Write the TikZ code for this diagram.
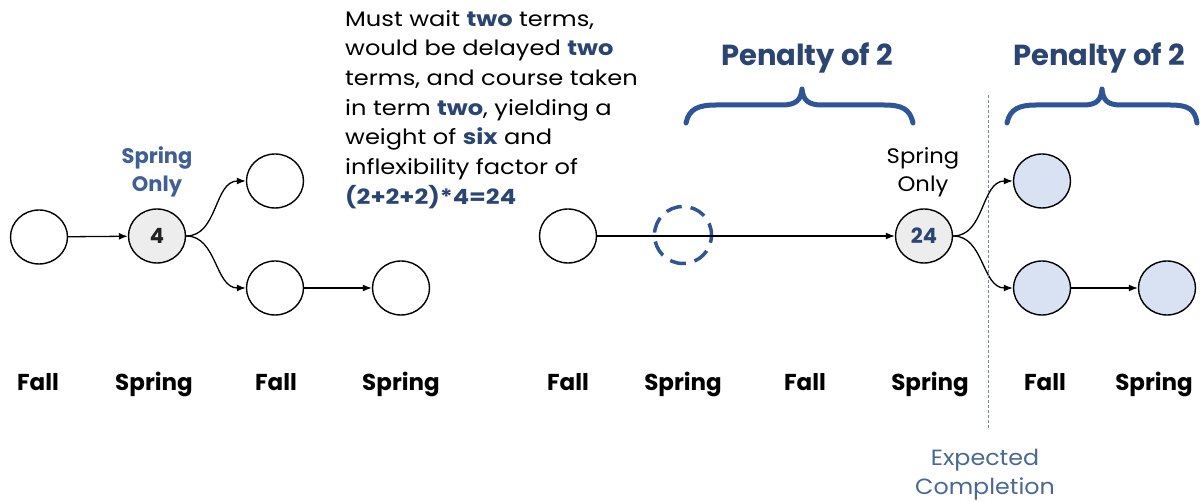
\documentclass[tikz,border=0pt]{standalone}
\usepackage{fontspec}
\setmainfont{Poppins}
\newfontfamily\widefont[FakeStretch=1.15]{Poppins}
\newfontfamily\midfont[FakeStretch=1.08]{Poppins}
\usetikzlibrary{shapes.geometric,arrows.meta}
\definecolor{navy}{HTML}{2B4573}
\definecolor{midblue}{HTML}{3F5F95}
\definecolor{bracecol}{HTML}{2F5597}
\definecolor{expcol}{HTML}{4A6894}
\definecolor{grayfill}{HTML}{EDEDED}
\definecolor{bluefill}{HTML}{D9E2F3}
\definecolor{vline}{HTML}{6F86A6}
\definecolor{darktext}{HTML}{222222}
\tikzset{
  course/.style={ellipse, draw=black, line width=1.4pt, minimum width=57pt, minimum height=54pt, inner sep=0pt, fill=white},
  grayc/.style={course, fill=grayfill, font=\fontsize{21}{21}\selectfont\bfseries},
  bluec/.style={course, fill=bluefill},
  ghost/.style={circle, draw=bracecol, line width=3.5pt, dash pattern=on 16pt off 9pt, dash phase=4pt, minimum size=57pt, inner sep=0pt},
  conn/.style={line width=1.3pt, -{Latex[length=9pt,width=7pt]}},
  term/.style={font=\fontsize{23}{23}\selectfont\bfseries, anchor=base},
  penalty/.style={font=\fontsize{29}{29}\selectfont\bfseries, text=navy, anchor=base},
  brc/.style={draw=bracecol, line width=5pt, line cap=round, line join=round},
}
\begin{document}
\begin{tikzpicture}[x=1pt,y=-1pt]
\useasboundingbox (0,0) rectangle (1200,502);

% left diagram
\node[course] (a1) at (39,237) {};
\node[grayc, text=darktext]  (a2) at (157,236) {4};
\node[course] (a3) at (275,181) {};
\node[course] (a4) at (275,288) {};
\node[course] (a5) at (401,288) {};
\node[align=center, text=midblue, font=\fontsize{21}{28}\selectfont\bfseries, anchor=base] (so1) at (157,192) {Spring\\Only};
\draw[conn] (a1) -- (a2);
\draw[conn] (a2.east) to[out=0,in=180] (a3.west);
\draw[conn] (a2.east) to[out=0,in=180] (a4.west);
\draw[conn] (a4) -- (a5);

% explanation text
\node[align=left, anchor=north west, inner sep=0pt, font=\widefont\fontsize{21}{29.7}\selectfont] (txt) at (345,10)
{Must wait \textbf{\color{navy}two} terms,\\
would be delayed \textbf{\color{navy}two}\\
terms, and course taken\\
in term \textbf{\color{navy}two}, yielding a\\
weight of \textbf{\color{navy}six} and\\
inflexibility factor of\\
\textbf{\color{navy}(2+2+2)*4=24}};

% right diagram
\node[course] (b1) at (568,236) {};
\node[ghost]  (d)  at (683,235) {};
\node[grayc, text=navy]  (b3) at (924,236) {24};
\node[align=center, font=\midfont\fontsize{21}{28}\selectfont, anchor=base] (so2) at (923,192) {Spring\\Only};
\node[bluec] (c1) at (1042,181) {};
\node[bluec] (c2) at (1042,288) {};
\node[bluec] (c3) at (1167,288) {};
\draw[conn] (b1) -- (b3);
\draw[conn] (b3.east) to[out=0,in=180] (c1.west);
\draw[conn] (b3.east) to[out=0,in=180] (c2.west);
\draw[conn] (c2) -- (c3);

% braces and penalties
\draw[brc] (686,123) .. controls (689,109) and (698,105) .. (716,105) -- (782,105)
  .. controls (796,105) and (801,100) .. (802,89)
  .. controls (803,100) and (808,105) .. (822,105) -- (884,105)
  .. controls (902,105) and (910,109) .. (913,123);
\draw[brc] (1007,123) .. controls (1010,109) and (1019,105) .. (1036,105) -- (1083,105)
  .. controls (1097,105) and (1101,100) .. (1102,89)
  .. controls (1103,100) and (1107,105) .. (1121,105) -- (1170,105)
  .. controls (1188,105) and (1195,109) .. (1197,123);
\node[penalty] (p1) at (807,66) {Penalty of 2};
\node[penalty] (p2) at (1099,66) {Penalty of 2};

% expected completion
\coordinate (vtop) at (988,95);
\coordinate (vbot) at (988,428);
\draw[vline, line width=0.8pt, dash pattern=on 3pt off 2pt] (vtop) -- (vbot);
\node[align=center, text=expcol, font=\midfont\fontsize{22}{29}\selectfont, anchor=base] (exp) at (985,494) {Expected\\Completion};

% term labels
\node[term] (t1) at (38,391) {Fall};
\node[term] (t2) at (154,391) {Spring};
\node[term] (t3) at (276,391) {Fall};
\node[term] (t4) at (401,391) {Spring};
\node[term] (t5) at (568,391) {Fall};
\node[term] (t6) at (683,391) {Spring};
\node[term] (t7) at (805,391) {Fall};
\node[term] (t8) at (930,391) {Spring};
\node[term] (t9) at (1045,391) {Fall};
\node[term] (t10) at (1154,391) {Spring};
\end{tikzpicture}
\end{document}
